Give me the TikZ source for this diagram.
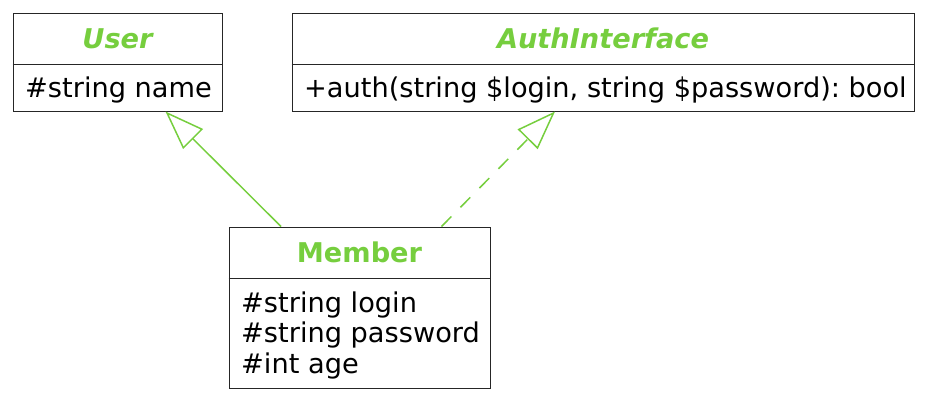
\documentclass[tikz,border=0pt]{standalone}
\usepackage{fontspec}
\setmainfont{DejaVu Sans}
\usetikzlibrary{arrows.meta}
\frenchspacing

\definecolor{umlgreen}{RGB}{118,206,62}
\newcommand\umlfont{\fontsize{27.2pt}{30.5pt}\selectfont}

\tikzset{
  classbox/.style={draw=black!85, line width=1pt, inner sep=0pt},
  classname/.style={text=umlgreen, font=\umlfont\bfseries, anchor=base, inner sep=0pt},
  abstractname/.style={classname, font=\umlfont\bfseries\itshape},
  attrs/.style={font=\umlfont, anchor=base west, inner sep=0pt, align=left},
  divider/.style={draw=black!85, line width=1pt},
  extends/.style={draw=umlgreen, line width=1.5pt, -{Triangle[open, length=39pt, width=28pt]}},
  implements/.style={extends, dash pattern=on 14pt off 13pt}
}

\begin{document}
\begin{tikzpicture}[x=1pt, y=-1pt]

\useasboundingbox (0,0) rectangle (925,400);

% classes
\node[classbox, minimum width=209pt, minimum height=98pt] (user) at (117.5,62) {};
\node[classbox, minimum width=622pt, minimum height=98pt] (auth) at (603,62) {};
\node[classbox, minimum width=261pt, minimum height=161pt] (member) at (359.5,307.5) {};

% names
\node[abstractname] (username) at (117.5,48) {User};
\node[abstractname] (authname) at (603,48) {AuthInterface};
\node[classname] (membername) at (359.5,262) {Member};

\draw[divider] (user.west |- 0,64) -- (user.east |- 0,64);
\draw[divider] (auth.west |- 0,64) -- (auth.east |- 0,64);
\draw[divider] (member.west |- 0,278) -- (member.east |- 0,278);

% fields (base = last line)
\node[attrs] (userattrs) at (25,97) {\#string name};
\node[attrs] (authattrs) at (304,97) {+auth(string \$login, string \$password): bool};
\node[attrs] (memberattrs) at (241,373) {\#string login\\\#string password\\\#int age};

% relations
\draw[extends] (member.north -| 281,0) -- (user.south -| 165.5,0);
\draw[implements] (member.north -| 441.5,0) -- (auth.south -| 555,0);

\end{tikzpicture}
\end{document}
